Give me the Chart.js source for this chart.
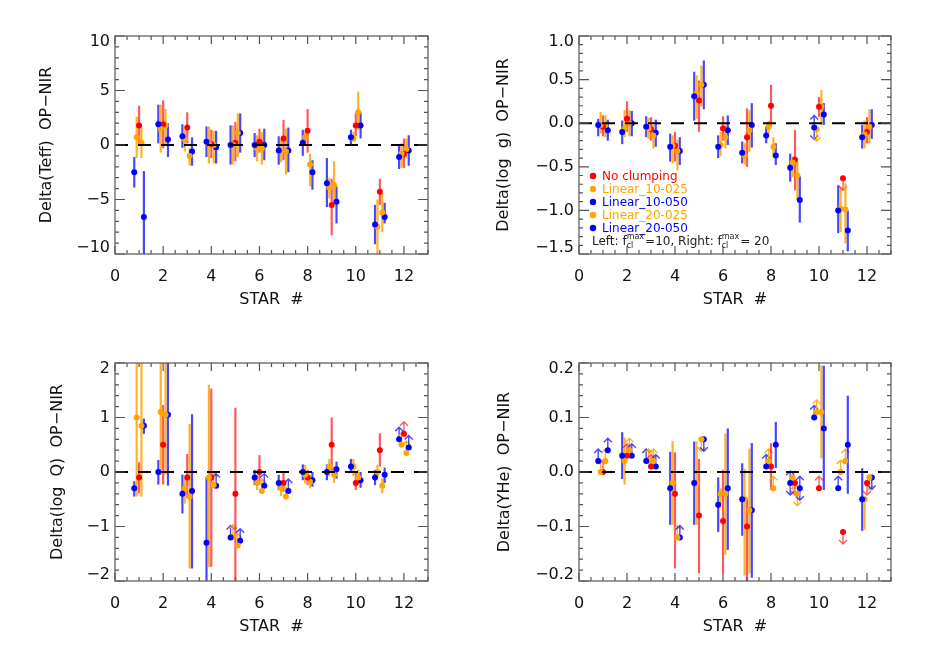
<!DOCTYPE html>
<html><head><meta charset="utf-8">
<script src="https://cdn.jsdelivr.net/npm/chart.js@4.4.0/dist/chart.umd.min.js"></script>
<style>
html,body{margin:0;padding:0;background:#fff;}
#wrap{position:relative;width:926px;height:654px;overflow:hidden;}
canvas{position:absolute;left:0;top:0;}
</style></head><body><div id="wrap">
<canvas id="c1" width="926" height="654"></canvas>
<canvas id="c2" width="926" height="654"></canvas>
<canvas id="c3" width="926" height="654"></canvas>
<canvas id="c4" width="926" height="654"></canvas>
</div>
<script>
// ---------- common ----------
const STARS = [1,2,3,4,5,6,7,8,9,10,11,12];
const X_TICKS = [0,2,4,6,8,10,12];
const X_TICK_LABELS = ['0','2','4','6','8','10','12'];
const SERIES_NAMES = ['Linear_10-050','Linear_10-025','No clumping','Linear_20-025','Linear_20-050'];
const SERIES_OFFSETS = [-0.2,-0.1,0,0.1,0.2];
const SERIES_COLORS = ['#0000ff','#ffa500','#ff0000','#ffa500','#0000ff'];
const SERIES_BAR_COLORS = ['rgba(0,0,255,0.72)','rgba(255,165,0,0.85)','rgba(255,0,0,0.65)','rgba(255,165,0,0.85)','rgba(0,0,255,0.72)'];
const LEGEND_ORDER = [2,1,0,3,4];

// ---------- panel 1: Delta(Teff) ----------
const TEFF_TICKS = [-10,-5,0,5,10];
const TEFF_TICK_LABELS = ['\u221210','\u22125','0','5','10'];
const TEFF_L10_050 = [-2.5, 1.9, 0.8, 0.3, 0.0, 0.0, -0.5, 0.2, -3.5, 0.7, -7.3, -1.1];
const TEFF_L10_050_BAR = [[-3.9,-1.1],[0.15,3.7],[-0.25,1.9],[-1.1,1.7],[-1.8,1.8],[-1.1,1.1],[-1.8,0.8],[-1.0,1.4],[-5.7,-1.2],[0.0,1.4],[-9.1,-5.5],[-2.2,0.0]];
const TEFF_L10_025 = [0.7, 1.5, 0.5, 0.15, 0.0, -0.3, -0.6, 0.7, -3.9, 0.6, -7.5, -0.8];
const TEFF_L10_025_BAR = [[-1.2,2.6],[-0.7,3.7],[-0.6,1.4],[-1.7,1.7],[-1.8,1.8],[-1.5,0.9],[-1.6,0.5],[0.0,1.2],[-4.9,-3.0],[0.3,1.2],[-11,-5.0],[-2.1,0.15]];
const TEFF_NC = [1.8, 1.9, 1.6, 0.1, 0.2, 0.3, 0.6, 1.3, -5.5, 1.8, -4.3, -0.8];
const TEFF_NC_BAR = [[0.0,3.6],[-0.3,4.1],[0.15,3.0],[-1.2,1.4],[-1.5,2.1],[-0.7,1.5],[-1.4,2.3],[-0.7,3.3],[-8.3,-3.1],[0.8,2.9],[-5.5,-3.1],[-2.1,0.6]];
const TEFF_L20_025 = [0.2, 1.8, -1.0, 0.0, 1.1, -0.3, -0.6, -1.8, -3.7, 3.0, -6.2, -0.4];
const TEFF_L20_025_BAR = [[-1.2,1.6],[0.0,3.3],[-1.9,-0.3],[-1.7,1.3],[-1.1,2.9],[-1.8,1.2],[-2.7,1.5],[-3.8,-0.8],[-5.5,-1.5],[1.4,4.9],[-8.0,-4.4],[-1.2,0.6]];
const TEFF_L20_050 = [-6.6, 0.5, -0.6, -0.2, 1.1, 0.0, -0.5, -2.5, -5.2, 1.8, -6.6, -0.5];
const TEFF_L20_050_BAR = [[-11,-2.4],[-1.1,2.0],[-1.9,0.7],[-1.7,1.3],[-0.7,2.9],[-1.4,1.5],[-2.5,1.6],[-4.1,-1.4],[-7.2,-3.8],[0.6,3.0],[-7.2,-5.3],[-1.9,0.9]];

// ---------- panel 2: Delta(log g) ----------
const LOGG_TICKS = [-1.5,-1.0,-0.5,0.0,0.5,1.0];
const LOGG_TICK_LABELS = ['\u22121.5','\u22121.0','\u22120.5','0.0','0.5','1.0'];
const LOGG_L10_050 = [-0.02,-0.10,-0.04,-0.27,0.31,-0.27,-0.34,-0.14,-0.51,-0.05,-1.00,-0.16];
const LOGG_L10_050_BAR = [[-0.15,0.05],[-0.24,0.03],[-0.16,0.08],[-0.44,-0.12],[0.03,0.59],[-0.40,-0.14],[-0.46,-0.21],[-0.23,-0.04],[-0.67,-0.35],'both',[-1.26,-0.71],[-0.29,-0.02]];
const LOGG_L10_025 = [-0.02,-0.06,-0.06,-0.26,0.34,-0.25,-0.37,-0.04,-0.45,-0.07,-0.98,-0.13];
const LOGG_L10_025_BAR = [[-0.12,0.13],[-0.16,0.15],[-0.18,0.06],[-0.46,-0.14],[0.05,0.55],[-0.38,-0.10],[-0.48,-0.23],[-0.12,0.03],[-0.62,-0.38],'down',[-1.25,-0.73],[-0.29,0.03]];
const LOGG_NC = [-0.04,0.05,-0.07,-0.26,0.26,-0.06,-0.16,0.20,-0.42,0.19,-0.63,-0.10];
const LOGG_NC_BAR = [[-0.15,0.09],[-0.10,0.25],[-0.20,0.07],[-0.44,-0.10],[-0.10,0.49],[-0.20,0.08],[-0.50,0.17],[-0.04,0.44],[-0.77,-0.08],[0.07,0.30],'down',[-0.23,0.07]];
const LOGG_L20_025 = [-0.02,0.00,-0.14,-0.32,0.44,-0.16,-0.08,-0.27,-0.60,0.19,-0.99,-0.04];
const LOGG_L20_025_BAR = [[-0.16,0.09],[-0.15,0.15],[-0.29,-0.02],[-0.54,-0.19],[0.19,0.66],[-0.29,-0.02],[-0.33,0.15],[-0.39,-0.16],[-0.88,-0.44],[-0.02,0.38],[-1.38,-0.69],[-0.23,0.16]];
const LOGG_L20_050 = [-0.08,0.00,-0.11,-0.32,0.44,-0.08,-0.02,-0.37,-0.88,0.10,-1.23,-0.02];
const LOGG_L20_050_BAR = [[-0.20,0.04],[-0.15,0.14],[-0.27,0.04],[-0.48,-0.16],[0.16,0.72],[-0.25,0.09],[-0.28,0.23],[-0.48,-0.23],[-1.14,-0.61],[-0.02,0.23],[-1.47,-1.00],[-0.18,0.16]];

// ---------- panel 3: Delta(log Q) ----------
const LOGQ_TICKS = [-2,-1,0,1,2];
const LOGQ_TICK_LABELS = ['\u22122','\u22121','0','1','2'];
const LOGQ_L10_050 = [-0.30,0.00,-0.40,-1.30,-1.20,-0.10,-0.20,0.00,0.00,0.10,-0.10,0.60];
const LOGQ_L10_050_BAR = [[-0.45,-0.17],[-0.23,0.22],[-0.76,-0.05],[-2.5,-0.09],'up',[-0.24,0.04],[-0.33,-0.05],[-0.15,0.14],[-0.15,0.14],[-0.01,0.24],[-0.24,0.04],'up'];
const LOGQ_L10_025 = [1.00,1.10,-0.30,-0.10,-1.19,-0.20,-0.30,-0.05,0.10,0.10,0.00,0.50];
const LOGQ_L10_025_BAR = [[-0.45,3],[-0.05,3],[-0.58,-0.12],[-1.74,1.60],'up',[-0.33,-0.05],[-0.44,-0.15],[-0.21,0.13],[-0.08,0.24],[-0.08,0.24],[-0.12,0.13],'up'];
const LOGQ_NC = [-0.10,0.50,-0.10,-0.10,-0.40,0.00,-0.20,-0.10,0.50,-0.20,0.40,0.70];
const LOGQ_NC_BAR = [[-0.39,0.18],[-0.23,1.23],[-0.48,0.33],[-1.74,1.53],[-2.5,1.18],[-0.24,0.31],[-0.36,0.00],[-0.24,0.04],[0.00,1.00],[-0.33,0.00],[0.10,0.71],'up'];
const LOGQ_L20_025 = [0.85,1.05,-0.45,-0.24,-1.35,-0.35,-0.45,-0.18,-0.05,-0.10,-0.25,0.35];
const LOGQ_L20_025_BAR = [[-0.45,3],[-0.05,3],[-1.77,0.88],'up','up','up',[-0.50,-0.27],[-0.30,-0.06],[-0.20,0.10],[-0.24,0.04],[-0.39,-0.12],'up'];
const LOGQ_L20_050 = [0.85,1.05,-0.35,-0.25,-1.26,-0.25,-0.35,-0.15,0.05,-0.15,-0.05,0.45];
const LOGQ_L20_050_BAR = [[0.70,0.98],[-0.25,3],[-1.77,1.06],'up','up','up','up',[-0.27,0.00],[-0.12,0.19],[-0.29,0.00],[-0.20,0.08],'up'];

// ---------- panel 4: Delta(YHe) ----------
const YHE_TICKS = [-0.2,-0.1,0.0,0.1,0.2];
const YHE_TICK_LABELS = ['\u22120.2','\u22120.1','0.0','0.1','0.2'];
const YHE_L10_050 = [0.02,0.03,0.02,-0.03,-0.02,-0.06,-0.05,0.01,-0.02,0.10,-0.03,-0.05];
const YHE_L10_050_BAR = ['up',[-0.013,0.073],'up',[-0.097,0.037],[-0.097,0.056],[-0.11,-0.01],[-0.117,0.016],'up','both','up','up',[-0.108,0.007]];
const YHE_L10_025 = [0.00,0.02,0.02,-0.02,-0.02,-0.04,-0.05,0.02,-0.01,0.11,0.00,-0.05];
const YHE_L10_025_BAR = ['up',[-0.023,0.063],'up',[-0.097,0.057],[-0.097,0.056],[-0.06,-0.03],[-0.19,0.006],'up','down','up','up',[-0.106,-0.048]];
const YHE_NC = [0.00,0.03,0.01,-0.04,-0.08,-0.09,-0.10,0.01,-0.02,-0.03,-0.11,-0.02];
const YHE_NC_BAR = ['up','up','up',[-0.177,0.036],[-0.186,0.024],[-0.186,0.004],[-0.25,-0.048],[-0.033,0.053],'down','up','down','down'];
const YHE_L20_025 = [0.02,0.04,0.02,-0.12,0.06,-0.04,-0.07,-0.03,-0.04,0.11,0.02,-0.01];
const YHE_L20_025_BAR = ['up','up','up','up','down',[-0.152,0.071],[-0.186,0.043],'up','down',[0.025,0.196],'up','down'];
const YHE_L20_050 = [0.04,0.03,0.01,-0.12,0.06,-0.03,-0.07,0.05,-0.03,0.08,0.05,-0.01];
const YHE_L20_050_BAR = ['up','up','up','up','down',[-0.143,0.080],[-0.194,0.053],[0.007,0.092],'both',[-0.033,0.195],[-0.04,0.14],'down'];

// ---------- drawing ----------
const FONT = 'DejaVu Sans';

function buildDatasets(list){
  return list.map((pair, s) => ({
    label: SERIES_NAMES[s],
    data: STARS.map((st, i) => ({x: st + SERIES_OFFSETS[s], y: pair[0][i]})),
    bars: pair[1],
    barColor: SERIES_BAR_COLORS[s],
    backgroundColor: SERIES_COLORS[s],
    borderWidth: 0,
    pointRadius: 3,
    pointHoverRadius: 3,
    showLine: false
  }));
}

function drawArrow(ctx, x, y, dir){
  const L = 12, h = 4;
  const ty = y - dir * L;
  ctx.beginPath();
  ctx.moveTo(x, y); ctx.lineTo(x, ty);
  ctx.moveTo(x - h, ty + dir * h); ctx.lineTo(x, ty); ctx.lineTo(x + h, ty + dir * h);
  ctx.stroke();
}

const errPlugin = {
  id: 'errbars',
  beforeDraw(chart){
    // keep the extreme y tick labels inside the axis span
    const ys = chart.scales.y;
    const items = ys.getLabelItems();
    if (items.length && !items._clamped) {
      items[0].options.translation[1] -= 6;
      items[items.length - 1].options.translation[1] += 6;
      items._clamped = true;
    }
  },
  beforeDatasetsDraw(chart, args, opts){
    const ctx = chart.ctx, xs = chart.scales.x, ys = chart.scales.y, ca = chart.chartArea;
    ctx.save();
    ctx.beginPath(); ctx.rect(ca.left, ca.top, ca.right - ca.left, ca.bottom - ca.top); ctx.clip();
    chart.data.datasets.forEach(ds => {
      ds.bars.forEach((b, i) => {
        const px = xs.getPixelForValue(ds.data[i].x), py = ys.getPixelForValue(ds.data[i].y);
        ctx.strokeStyle = ds.barColor;
        if (Array.isArray(b)) {
          ctx.lineWidth = 2.2;
          ctx.beginPath();
          ctx.moveTo(px, ys.getPixelForValue(b[0]));
          ctx.lineTo(px, ys.getPixelForValue(b[1]));
          ctx.stroke();
        } else {
          ctx.lineWidth = 1.4;
          if (b === 'up' || b === 'both') drawArrow(ctx, px, py, 1);
          if (b === 'down' || b === 'both') drawArrow(ctx, px, py, -1);
        }
      });
    });
    ctx.restore();
  },
  afterDatasetsDraw(chart){
    const ctx = chart.ctx, ys = chart.scales.y, ca = chart.chartArea;
    const y0 = ys.getPixelForValue(0);
    ctx.save();
    ctx.strokeStyle = '#000'; ctx.lineWidth = 2; ctx.setLineDash([13, 10]);
    ctx.beginPath(); ctx.moveTo(ca.left, y0); ctx.lineTo(ca.right, y0); ctx.stroke();
    ctx.restore();
  },
  afterDraw(chart, args, opts){
    const ctx = chart.ctx, xs = chart.scales.x, ys = chart.scales.y, ca = chart.chartArea;
    ctx.save();
    ctx.strokeStyle = '#555'; ctx.lineWidth = 1.2;
    ctx.strokeRect(ca.left, ca.top, ca.right - ca.left, ca.bottom - ca.top);
    ctx.beginPath();
    for (let v = xs.min; v <= xs.max + 1e-9; v += opts.xMinor) {
      const p = xs.getPixelForValue(v);
      const major = X_TICKS.some(t => Math.abs(t - v) < 1e-6);
      const L = major ? 8 : 4;
      ctx.moveTo(p, ca.bottom); ctx.lineTo(p, ca.bottom - L);
      ctx.moveTo(p, ca.top); ctx.lineTo(p, ca.top + L);
    }
    const n = Math.round((ys.max - ys.min) / opts.yMinor);
    for (let k = 0; k <= n; k++) {
      const v = ys.min + k * opts.yMinor;
      const p = ys.getPixelForValue(v);
      const major = opts.yTicks.some(t => Math.abs(t - v) < 1e-6);
      const L = major ? 10 : 4;
      ctx.moveTo(ca.left, p); ctx.lineTo(ca.left + L, p);
      ctx.moveTo(ca.right, p); ctx.lineTo(ca.right - L, p);
    }
    ctx.stroke();
    if (opts.legend) {
      ctx.textBaseline = 'middle'; ctx.textAlign = 'left';
      ctx.font = '12px "' + FONT + '"';
      const lx = ca.left + 14;
      LEGEND_ORDER.forEach((s, k) => {
        const ly = ca.bottom - 78 + k * 13;
        ctx.fillStyle = SERIES_COLORS[s];
        ctx.beginPath(); ctx.arc(lx, ly, 3.2, 0, Math.PI * 2); ctx.fill();
        ctx.fillText(SERIES_NAMES[s], lx + 9, ly + 1);
      });
      const ly = ca.bottom - 12;
      let x = lx - 1;
      ctx.fillStyle = '#222';
      const parts = [['Left: f', 'n'], ['cl', 's'], ['=10, Right: f', 'n'], ['cl', 's'], ['= 20', 'n']];
      parts.forEach(([t, kind]) => {
        if (kind === 'n') {
          ctx.font = '12px "' + FONT + '"';
          ctx.fillText(t, x, ly);
          x += ctx.measureText(t).width;
        } else {
          ctx.font = '8px "' + FONT + '"';
          ctx.fillText('cl', x, ly + 4);
          const w1 = ctx.measureText('cl').width;
          ctx.fillText('max', x, ly - 5);
          const w2 = ctx.measureText('max').width;
          x += Math.max(w1, w2) + 1;
        }
      });
    }
    ctx.restore();
  }
};

function makeChart(id, cfg){
  const tickFont = {family: FONT, size: 16};
  new Chart(document.getElementById(id), {
    type: 'scatter',
    data: {datasets: buildDatasets(cfg.series)},
    plugins: [errPlugin],
    options: {
      responsive: false, animation: false, devicePixelRatio: 1,
      layout: {padding: {left: cfg.padL, top: cfg.top, right: 926 - cfg.right, bottom: 654 - cfg.bottom - 60}},
      plugins: {
        legend: {display: false}, tooltip: {enabled: false},
        errbars: {xMinor: 0.5, yMinor: cfg.yMinor, yTicks: cfg.yTicks, legend: !!cfg.legend}
      },
      scales: {
        x: {
          type: 'linear', min: 0, max: 13,
          afterBuildTicks: s => { s.ticks = X_TICKS.map(v => ({value: v})); },
          afterFit: s => { s.height = 60; },
          ticks: {font: tickFont, color: '#111', padding: 13, maxRotation: 0, autoSkip: false,
            callback: (v) => X_TICK_LABELS[X_TICKS.indexOf(v)]},
          grid: {display: false, drawTicks: false},
          border: {display: false},
          title: {display: true, text: 'STAR  #', font: {family: FONT, size: 16}, color: '#111', padding: {top: 0, bottom: 5}}
        },
        y: {
          type: 'linear', min: cfg.yMin, max: cfg.yMax,
          afterBuildTicks: s => { s.ticks = cfg.yTicks.map(v => ({value: v})); },
          afterFit: s => { s.width = cfg.left - cfg.padL; },
          ticks: {font: tickFont, color: '#111', padding: 5, autoSkip: false,
            callback: (v) => { const i = cfg.yTicks.findIndex(t => Math.abs(t - v) < 1e-9); return cfg.yLabels[i]; }},
          grid: {display: false, drawTicks: false},
          border: {display: false},
          title: {display: true, text: cfg.yTitle, font: {family: FONT, size: 16}, color: '#111', padding: {top: cfg.titlePad, bottom: 0}}
        }
      }
    }
  });
}

makeChart('c1', {
  series: [[TEFF_L10_050, TEFF_L10_050_BAR],[TEFF_L10_025, TEFF_L10_025_BAR],[TEFF_NC, TEFF_NC_BAR],[TEFF_L20_025, TEFF_L20_025_BAR],[TEFF_L20_050, TEFF_L20_050_BAR]],
  padL: 30, left: 115, right: 428, top: 36, bottom: 254,
  yMin: -10, yMax: 10, yTicks: TEFF_TICKS, yLabels: TEFF_TICK_LABELS, yMinor: 1,
  yTitle: 'Delta(Teff)  OP\u2212NIR', titlePad: 7
});
makeChart('c2', {
  series: [[LOGG_L10_050, LOGG_L10_050_BAR],[LOGG_L10_025, LOGG_L10_025_BAR],[LOGG_NC, LOGG_NC_BAR],[LOGG_L20_025, LOGG_L20_025_BAR],[LOGG_L20_050, LOGG_L20_050_BAR]],
  padL: 490, left: 579, right: 891, top: 36, bottom: 254,
  yMin: -1.5, yMax: 1.0, yTicks: LOGG_TICKS, yLabels: LOGG_TICK_LABELS, yMinor: 0.1,
  yTitle: 'Delta(log  g)  OP\u2212NIR', titlePad: 4, legend: true
});
makeChart('c3', {
  series: [[LOGQ_L10_050, LOGQ_L10_050_BAR],[LOGQ_L10_025, LOGQ_L10_025_BAR],[LOGQ_NC, LOGQ_NC_BAR],[LOGQ_L20_025, LOGQ_L20_025_BAR],[LOGQ_L20_050, LOGQ_L20_050_BAR]],
  padL: 30, left: 115, right: 428, top: 363, bottom: 581,
  yMin: -2, yMax: 2, yTicks: LOGQ_TICKS, yLabels: LOGQ_TICK_LABELS, yMinor: 0.2,
  yTitle: 'Delta(log  Q)  OP\u2212NIR', titlePad: 18.5
});
makeChart('c4', {
  series: [[YHE_L10_050, YHE_L10_050_BAR],[YHE_L10_025, YHE_L10_025_BAR],[YHE_NC, YHE_NC_BAR],[YHE_L20_025, YHE_L20_025_BAR],[YHE_L20_050, YHE_L20_050_BAR]],
  padL: 490, left: 579, right: 891, top: 363, bottom: 581,
  yMin: -0.2, yMax: 0.2, yTicks: YHE_TICKS, yLabels: YHE_TICK_LABELS, yMinor: 0.02,
  yTitle: 'Delta(YHe)  OP\u2212NIR', titlePad: 5.5
});
</script>
</body></html>
